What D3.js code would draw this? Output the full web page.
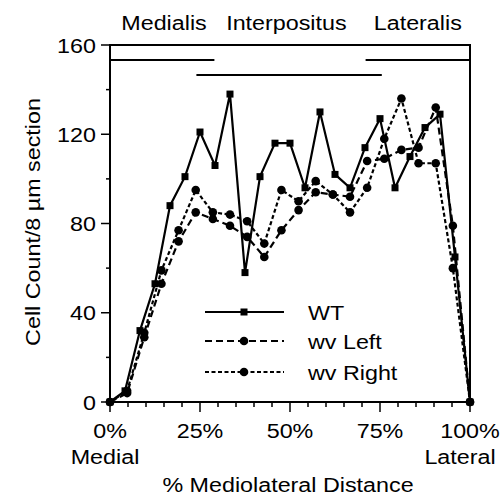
<!DOCTYPE html>
<html><head><meta charset="utf-8">
<script src="https://cdn.jsdelivr.net/npm/d3@7"></script>
<style>body{margin:0;background:#fff}</style>
</head><body>
<svg id="c" width="502" height="498"></svg>
<script>
// ---- data ----
const wtPct = [0,4.17,8.33,12.5,16.67,20.83,25,29.17,33.33,37.5,41.67,45.83,50,54.17,58.33,62.5,66.67,70.83,75,79.17,83.33,87.5,91.67,95.83,100];
const wtVal = [0,5,32,53,88,101,121,106,138,58,101,116,116,96,130,102,96,114,127,96,110,123,129,65,0];
const wvPct = [0,4.76,9.52,14.29,19.05,23.81,28.57,33.33,38.1,42.86,47.62,52.38,57.14,61.9,66.67,71.43,76.19,80.95,85.71,90.48,95.24,100];
const wvLeftVal  = [0,4,29,53,72,85,82,79,74,65,77,86,94,93,92,108,109,113,114,132,79,0];
const wvRightVal = [0,5,31,59,77,95,85,84,81,71,95,90,99,93,85,96,118,136,107,107,60,0];
const seriesNames = ["WT","wv Left","wv Right"];
const yTickLabels = [0,40,80,120,160];
const xTickLabels = [0,25,50,75,100];
const regionNames = ["Medialis","Interpositus","Lateralis"];
const regionCenters = [15,49,85.5];          // % positions of region labels
const regionBars = [[0,29],[24,75.5],[71,100]]; // % spans of region bars
const regionBarRows = [0,1,0];

// ---- layout ----
const svg = d3.select("#c");
const L=110, R=470, T=45, B=402;
const x = d3.scaleLinear().domain([0,100]).range([L,R]);
const y = d3.scaleLinear().domain([0,160]).range([B,T]);
const FONT = "'Liberation Sans', Arial, Helvetica, sans-serif";
const SX = 1.11;

function label(g, tx, ty, str, anchor, rot) {
  const gg = g.append("g").attr("transform", `translate(${tx},${ty})` + (rot?` rotate(${rot})`:"") + ` scale(${SX},1)`);
  gg.append("text").attr("text-anchor", anchor||"middle").attr("font-family", FONT)
    .attr("font-size", 21).attr("fill","#000").text(str);
}

// frame
svg.append("rect").attr("x",L).attr("y",T).attr("width",R-L).attr("height",B-T)
  .attr("fill","none").attr("stroke","#000").attr("stroke-width",2);

// region bars
regionBars.forEach((b,i)=>{
  const yy = T + 15 + regionBarRows[i]*15;
  svg.append("line").attr("x1",x(b[0])).attr("x2",x(b[1])).attr("y1",yy).attr("y2",yy)
    .attr("stroke","#000").attr("stroke-width",2);
});
regionNames.forEach((n,i)=> label(svg, x(regionCenters[i]), 30, n, "middle"));

// y axis ticks
const yAx = svg.append("g");
d3.range(0,161,20).forEach(v=>{
  const major = yTickLabels.includes(v);
  yAx.append("line").attr("x1",L-(major?9:4)).attr("x2",L).attr("y1",y(v)).attr("y2",y(v))
    .attr("stroke","#000").attr("stroke-width",1.5);
});
yTickLabels.forEach(v=> label(yAx, 96, y(v)+7.5, String(v), "end"));

// x axis ticks
const xAx = svg.append("g");
d3.range(0,101,5).forEach(v=>{
  const major = xTickLabels.includes(v);
  xAx.append("line").attr("x1",x(v)).attr("x2",x(v)).attr("y1",B).attr("y2",B+(major?10:5))
    .attr("stroke","#000").attr("stroke-width",1.5);
});
xTickLabels.forEach(v=> label(xAx, x(v), 438, v+"%", "middle"));
label(svg, 105, 464, "Medial", "middle");
label(svg, 460, 464, "Lateral", "middle");
label(svg, 288, 492, "% Mediolateral Distance", "middle");
label(svg, 40, 222, "Cell Count/8 µm section", "middle", -90);

// series
const line = d3.line().x(d=>x(d[0])).y(d=>y(d[1]));
const wt = wtPct.map((p,i)=>[p,wtVal[i]]);
const wl = wvPct.map((p,i)=>[p,wvLeftVal[i]]);
const wr = wvPct.map((p,i)=>[p,wvRightVal[i]]);
const styles = [
  {data:wt, dash:null, marker:"square"},
  {data:wl, dash:"7,4", marker:"circle"},
  {data:wr, dash:"4,2.5", marker:"circle"}
];
const plot = svg.append("g");
styles.slice().reverse().forEach(s=>{
  plot.append("path").attr("d", line(s.data)).attr("fill","none").attr("stroke","#000")
    .attr("stroke-width",2.2).attr("stroke-dasharray", s.dash);
  s.data.forEach(d=>{
    if (s.marker==="square") plot.append("rect").attr("x",x(d[0])-3.5).attr("y",y(d[1])-3.5)
      .attr("width",7).attr("height",7).attr("fill","#000");
    else plot.append("circle").attr("cx",x(d[0])).attr("cy",y(d[1])).attr("r",4.3).attr("fill","#000");
  });
});

// legend
const lg = svg.append("g");
const legY = [312,341,372];
styles.forEach((s,i)=>{
  lg.append("line").attr("x1",205).attr("x2",284).attr("y1",legY[i]).attr("y2",legY[i])
    .attr("stroke","#000").attr("stroke-width",2.2).attr("stroke-dasharray",s.dash);
  if (s.marker==="square") lg.append("rect").attr("x",244-3.5).attr("y",legY[i]-3.5).attr("width",7).attr("height",7);
  else lg.append("circle").attr("cx",244).attr("cy",legY[i]).attr("r",4.3);
  label(lg, 308, legY[i]+7.5, seriesNames[i], "start");
});
</script>
</body></html>
